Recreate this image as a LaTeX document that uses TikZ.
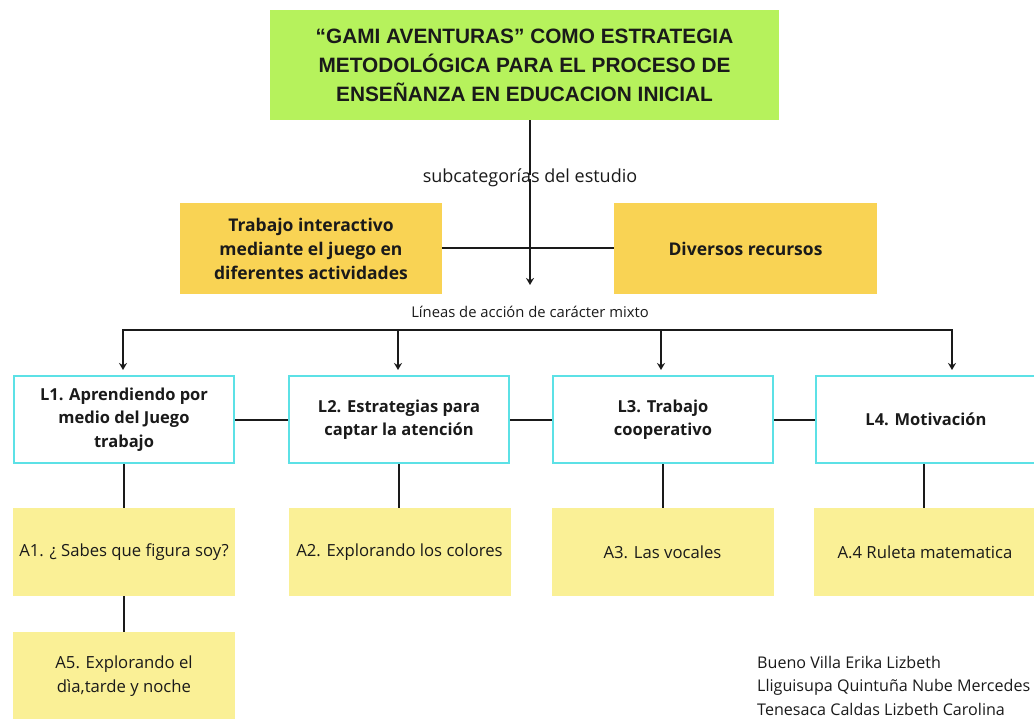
\documentclass[tikz,border=0pt]{standalone}
\usepackage{fontspec}
\setmainfont{Open Sans}
\newfontfamily\titlefont{Liberation Sans}
\usetikzlibrary{arrows.meta}
\definecolor{titlegreen}{HTML}{B6F25C}
\definecolor{gold}{HTML}{F9D354}
\definecolor{paleyellow}{HTML}{FAF096}
\definecolor{cyanb}{HTML}{5CE1E6}
\definecolor{ink}{HTML}{1A1A1A}
\tikzset{
  titlebox/.style={fill=titlegreen, minimum width=509pt, minimum height=110pt, align=center, inner sep=0pt,
    font=\titlefont\bfseries\fontsize{20.8}{29}\selectfont, text=ink},
  goldbox/.style={fill=gold, minimum width=262pt, minimum height=91pt, align=center, inner sep=0pt,
    font=\bfseries\fontsize{17.5}{24}\selectfont, text=ink},
  linebox/.style={draw=cyanb, line width=2pt, fill=white, minimum width=220pt, minimum height=87pt, align=center, inner sep=0pt,
    font=\bfseries\fontsize{16.5}{23.5}\selectfont, text=ink},
  actbox/.style={fill=paleyellow, minimum width=222pt, minimum height=88pt, align=center, inner sep=0pt,
    font=\fontsize{16.7}{23.5}\selectfont, text=ink},
  plain/.style={inner sep=0pt, text=ink},
  conn/.style={draw=ink, line width=2pt},
  arr/.style={draw=ink, line width=2pt, -{Stealth[length=7pt,width=8pt]}}
}
\begin{document}
\begin{tikzpicture}[x=1pt,y=-1pt]
\fill[white] (0,0) rectangle (1034,719);
\useasboundingbox (0,0) rectangle (1034,719);
\begin{scope}
\clip (0,0) rectangle (1034,719);
\node[titlebox] (title) at (524.5,65) {“GAMI AVENTURAS” COMO ESTRATEGIA\\METODOLÓGICA PARA EL PROCESO DE\\ENSEÑANZA EN EDUCACION INICIAL};
\node[plain, font=\fontsize{18}{22}\selectfont] (sub) at (530,178) {subcategorías del estudio};
\node[goldbox] (y1) at (311,248.5) {Trabajo interactivo\\mediante el juego en\\diferentes actividades};
\node[goldbox, minimum width=263pt] (y2) at (745.5,248.5) {Diversos recursos};
\node[plain, font=\fontsize{14.8}{18}\selectfont] (lin) at (530,312) {Líneas de acción de carácter mixto};
\node[linebox] (l1) at (124,419.5) {L1. Aprendiendo por\\medio del Juego\\trabajo};
\node[linebox] (l2) at (399,419.5) {L2. Estrategias para\\captar la atención};
\node[linebox] (l3) at (663,419.5) {L3. Trabajo\\cooperativo};
\node[linebox] (l4) at (926,419.5) {L4. Motivación};
\node[actbox] (a1) at (124,552) {A1. ¿ Sabes que figura soy?};
\node[actbox] (a2) at (399.5,552) {A2. Explorando los colores};
\node[actbox] (a3) at (662.5,552) {A3. Las vocales};
\node[actbox] (a4) at (925,552) {A.4 Ruleta matematica};
\node[actbox] (a5) at (124,676) {A5. Explorando el\\dìa,tarde y noche};
\node[plain, anchor=north west, align=left, font=\fontsize{16.1}{23.5}\selectfont] (names) at (757,656)
  {Bueno Villa Erika Lizbeth\\Lliguisupa Quintuña Nube Mercedes\\Tenesaca Caldas Lizbeth Carolina};
% connectors
\draw[conn] (title.south -| sub) -- ([yshift=-6pt]sub.north);
\coordinate (arrend) at (530,285);
\draw[arr] ([yshift=8pt]sub.south) -- (arrend);
\draw[conn] (y1.east) -- (y2.west);
\coordinate (bl) at (123,330);
\coordinate (b2) at (398,330);
\coordinate (b3) at (661,330);
\coordinate (br) at (952,330);
\draw[conn] ([xshift=-1pt]bl) -- ([xshift=1pt]br);
\draw[arr, shorten >=5pt] (bl) -- (bl |- l1.north);
\draw[arr, shorten >=5pt] (b2) -- (b2 |- l2.north);
\draw[arr, shorten >=5pt] (b3) -- (b3 |- l3.north);
\draw[arr, shorten >=5pt] (br) -- (br |- l4.north);
\draw[conn] (l1.east) -- (l2.west);
\draw[conn] (l2.east) -- (l3.west);
\draw[conn] (l3.east) -- (l4.west);
\draw[conn] (l1.south) -- (a1.north);
\draw[conn] (l2.south) -- (l2.south |- a2.north);
\draw[conn] (l3.south) -- (l3.south |- a3.north);
\draw[conn] ([xshift=-2pt]l4.south) -- ([xshift=-2pt]l4.south |- a4.north);
\draw[conn] (a1.south) -- (a5.north);
\end{scope}
\end{tikzpicture}
\end{document}
